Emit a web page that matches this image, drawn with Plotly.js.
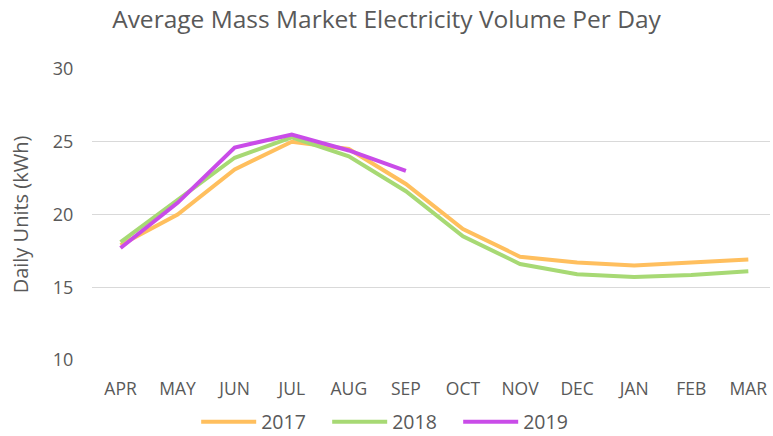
<!DOCTYPE html>
<html><head><meta charset="utf-8">
<script src="https://cdn.plot.ly/plotly-3.0.1.min.js"></script>
<style>html,body{margin:0;padding:0;background:#fff}#c{width:773px;height:436px}</style>
</head><body><div id="c"></div>
<script>
const months = ["APR","MAY","JUN","JUL","AUG","SEP","OCT","NOV","DEC","JAN","FEB","MAR"];
const s2017 = [17.9, 20.0, 23.1, 25.0, 24.5, 22.1, 19.0, 17.1, 16.7, 16.5, 16.7, 16.9];
const s2018 = [18.1, 21.0, 23.9, 25.3, 24.0, 21.6, 18.5, 16.6, 15.9, 15.7, 15.85, 16.1];
const s2019 = [17.7, 20.8, 24.6, 25.5, 24.4, 23.0];
const names = ["2017","2018","2019"];
const colors = ["#FFBF5E","#A7D974","#C94CE8"];
const series = [s2017, s2018, s2019];
const traces = series.map((s,i)=>({
  x: months.slice(0, s.length), y: s, type:"scatter", mode:"lines", name:names[i],
  line:{color:colors[i], width:4}
}));
Plotly.newPlot("c", traces, {
  width:773, height:436,
  margin:{l:92, r:3, t:69, b:76, autoexpand:false},
  paper_bgcolor:"#fff", plot_bgcolor:"#fff",
  font:{family:"Open Sans, sans-serif", color:"#595959", size:17},
  title:{text:"Average Mass Market Electricity Volume Per Day", font:{size:24.5, color:"#595959"}, x:0.5, xanchor:"center", y:0.955, yanchor:"middle"},
  xaxis:{type:"category", range:[-0.5, 11.38], showgrid:false, zeroline:false, showline:false, ticks:"outside", ticklen:13, tickcolor:"rgba(0,0,0,0)", tickfont:{size:17.5}},
  yaxis:{range:[10,30], dtick:5, showgrid:true, gridcolor:"#D9D9D9", gridwidth:1.3, zeroline:false, showline:false, ticks:"outside", ticklen:14, tickcolor:"rgba(0,0,0,0)", tickfont:{size:18},
    title:{text:"Daily Units (kWh)", font:{size:20}, standoff:18}},
  legend:{orientation:"h", xref:"container", x:0.508, xanchor:"center", y:-0.213, yanchor:"middle", font:{size:19.5}, itemwidth:55, entrywidth:61, traceorder:"normal"},
  showlegend:true
}, {displayModeBar:false, staticPlot:true});
</script></body></html>
